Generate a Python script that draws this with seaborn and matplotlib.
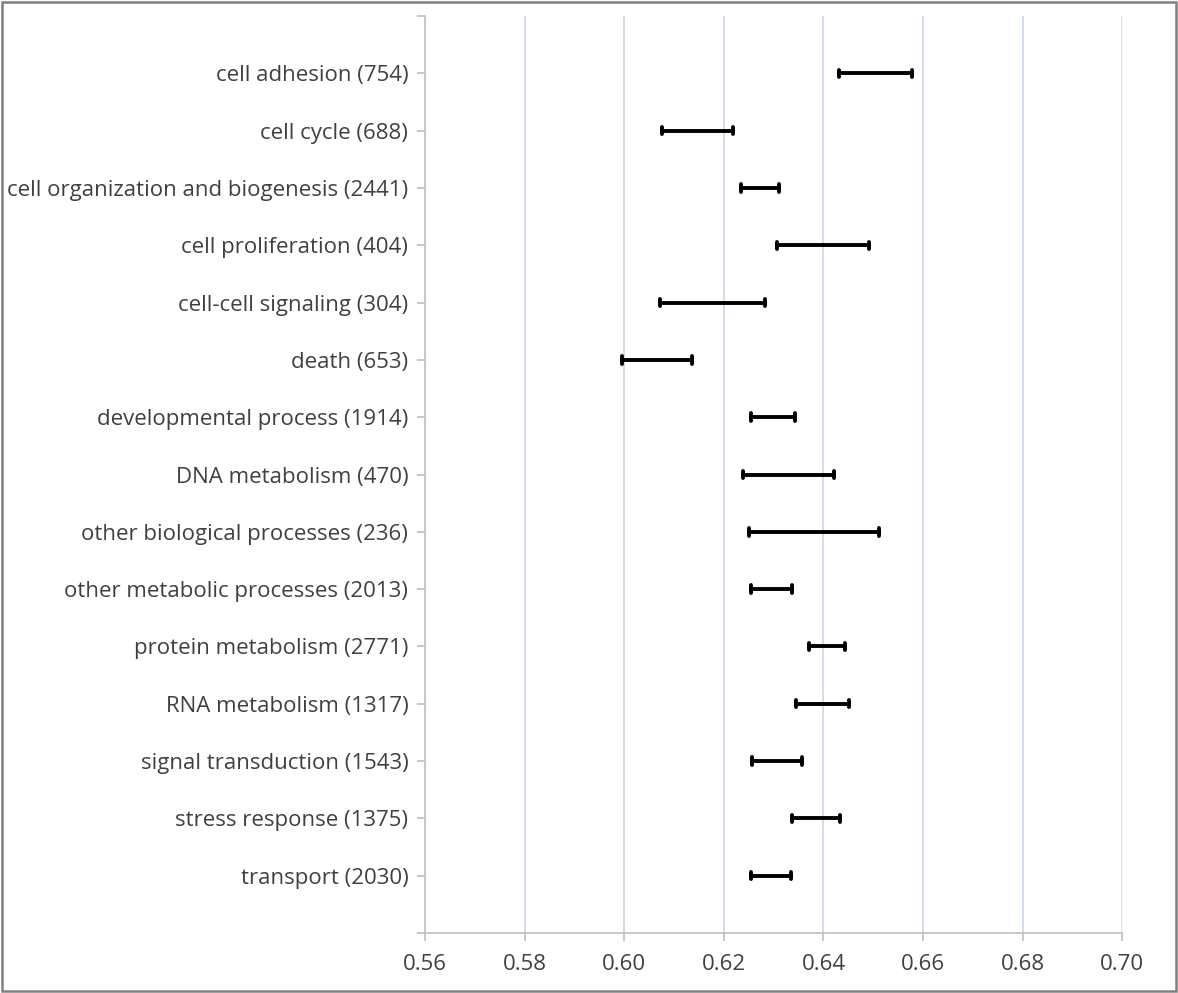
import numpy as np
import pandas as pd
import seaborn as sns
import matplotlib.pyplot as plt
from matplotlib.patches import Rectangle

categories = [
    "cell adhesion (754)",
    "cell cycle (688)",
    "cell organization and biogenesis (2441)",
    "cell proliferation (404)",
    "cell-cell signaling (304)",
    "death (653)",
    "developmental process (1914)",
    "DNA metabolism (470)",
    "other biological processes (236)",
    "other metabolic processes (2013)",
    "protein metabolism (2771)",
    "RNA metabolism (1317)",
    "signal transduction (1543)",
    "stress response (1375)",
    "transport (2030)",
]
low = [0.6431, 0.6076, 0.6234, 0.6306, 0.6071, 0.5995, 0.6254, 0.6239,
       0.6250, 0.6255, 0.6371, 0.6344, 0.6256, 0.6336, 0.6255]
high = [0.6578, 0.6219, 0.6310, 0.6491, 0.6282, 0.6136, 0.6342, 0.6421,
        0.6511, 0.6336, 0.6443, 0.6451, 0.6356, 0.6434, 0.6334]
x_ticks = [0.56, 0.58, 0.60, 0.62, 0.64, 0.66, 0.68, 0.70]

# long form: two rows per category, the interval is min..max
df = pd.DataFrame({
    "category": categories * 2,
    "value": low + high,
})

sns.set_theme(style="white")
plt.rcParams["font.family"] = ["Open Sans", "DejaVu Sans"]

fig = plt.figure(figsize=(11.78, 9.93), dpi=100)
ax = fig.add_axes([0.3608, 0.0604, 0.5919, 0.9235])

sns.pointplot(data=df, x="value", y="category", order=categories,
              estimator="mean", errorbar=("pi", 100), capsize=0.13,
              color="black", markers="none", linestyles="none",
              err_kws={"linewidth": 2.8}, ax=ax)

grid_c = "#cbd8ea"
axis_c = "#bfbfbf"
for t in x_ticks[1:]:
    ax.axvline(t, color=grid_c, linewidth=1.2, zorder=0)

ax.set_xlim(0.56, 0.70)
ax.set_ylim(len(categories), -1)
ax.set_xticks(x_ticks)
ax.set_xticklabels([f"{t:.2f}" for t in x_ticks])
ax.set_yticks(range(-1, len(categories) + 1))
ax.set_yticklabels([""] + categories + [""])
ax.set_xlabel("")
ax.set_ylabel("")

for s in ["top", "right"]:
    ax.spines[s].set_visible(False)
for s in ["left", "bottom"]:
    ax.spines[s].set_color(axis_c)
    ax.spines[s].set_linewidth(1.2)

ax.tick_params(axis="both", direction="out", length=6, width=1.2,
               color=axis_c, labelcolor="#404040", labelsize=16,
               bottom=True, left=True)
ax.tick_params(axis="x", pad=9)
ax.tick_params(axis="y", pad=6)

# thin grey frame round the whole picture
fig.patches.append(Rectangle((0.002, 0.002), 0.996, 0.996, transform=fig.transFigure,
                             fill=False, edgecolor="#808080", linewidth=1.8))

fig.savefig("out.png", dpi=100)
